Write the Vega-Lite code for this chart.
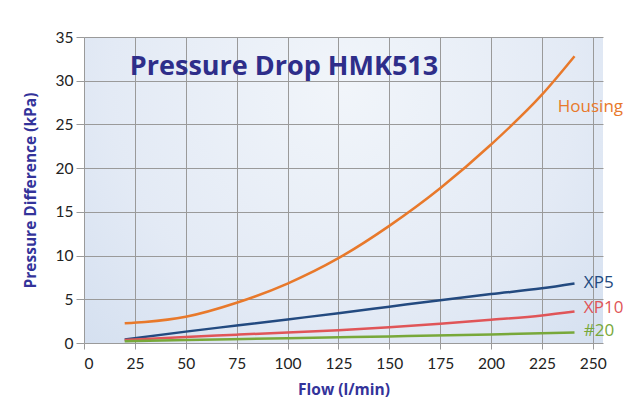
{
  "$schema": "https://vega.github.io/schema/vega-lite/v6.json",
  "autosize": "none",
  "width": 519,
  "height": 306,
  "padding": {"left": 84, "top": 37, "right": 27, "bottom": 58},
  "background": "white",
  "config": {
    "font": "Lato",
    "view": {
      "fill": {
        "gradient": "radial",
        "x1": 0.5, "y1": 0.3, "r1": 0,
        "x2": 0.5, "y2": 0.3, "r2": 0.75,
        "stops": [
          {"offset": 0, "color": "#F1F5FA"},
          {"offset": 0.6, "color": "#E3EAF5"},
          {"offset": 1, "color": "#D2DEEF"}
        ]
      },
      "stroke": null
    },
    "axis": {
      "gridColor": "#9a9a9a",
      "gridOpacity": 1,
      "gridWidth": 1,
      "tickColor": "#9a9a9a",
      "domainColor": "#9a9a9a",
      "labelFont": "Lato",
      "labelFontSize": 15.5,
      "labelColor": "#222222",
      "titleFont": "Open Sans",
      "titleFontSize": 15.5,
      "titleFontWeight": "bold",
      "titleColor": "#33339A"
    }
  },
  "datasets": {
    "curves": [
      {"flow": 20, "dp": 2.25, "series": "Housing"},
      {"flow": 30, "dp": 2.4, "series": "Housing"},
      {"flow": 50, "dp": 3.0, "series": "Housing"},
      {"flow": 75, "dp": 4.6, "series": "Housing"},
      {"flow": 100, "dp": 6.8, "series": "Housing"},
      {"flow": 125, "dp": 9.7, "series": "Housing"},
      {"flow": 150, "dp": 13.4, "series": "Housing"},
      {"flow": 175, "dp": 17.7, "series": "Housing"},
      {"flow": 200, "dp": 22.7, "series": "Housing"},
      {"flow": 225, "dp": 28.4, "series": "Housing"},
      {"flow": 241, "dp": 32.8, "series": "Housing"},
      {"flow": 20, "dp": 0.4, "series": "XP5"},
      {"flow": 50, "dp": 1.3, "series": "XP5"},
      {"flow": 75, "dp": 2.0, "series": "XP5"},
      {"flow": 100, "dp": 2.7, "series": "XP5"},
      {"flow": 125, "dp": 3.4, "series": "XP5"},
      {"flow": 150, "dp": 4.15, "series": "XP5"},
      {"flow": 175, "dp": 4.9, "series": "XP5"},
      {"flow": 200, "dp": 5.6, "series": "XP5"},
      {"flow": 225, "dp": 6.25, "series": "XP5"},
      {"flow": 241, "dp": 6.8, "series": "XP5"},
      {"flow": 20, "dp": 0.35, "series": "XP10"},
      {"flow": 50, "dp": 0.7, "series": "XP10"},
      {"flow": 75, "dp": 0.95, "series": "XP10"},
      {"flow": 100, "dp": 1.2, "series": "XP10"},
      {"flow": 125, "dp": 1.45, "series": "XP10"},
      {"flow": 150, "dp": 1.8, "series": "XP10"},
      {"flow": 175, "dp": 2.2, "series": "XP10"},
      {"flow": 200, "dp": 2.65, "series": "XP10"},
      {"flow": 225, "dp": 3.15, "series": "XP10"},
      {"flow": 241, "dp": 3.6, "series": "XP10"},
      {"flow": 20, "dp": 0.2, "series": "#20"},
      {"flow": 50, "dp": 0.33, "series": "#20"},
      {"flow": 100, "dp": 0.55, "series": "#20"},
      {"flow": 150, "dp": 0.75, "series": "#20"},
      {"flow": 200, "dp": 0.98, "series": "#20"},
      {"flow": 241, "dp": 1.2, "series": "#20"}
    ],
    "labels": [
      {"flow": 232.8, "dp": 27.0, "series": "Housing"},
      {"flow": 245.6, "dp": 6.9, "series": "XP5"},
      {"flow": 245.6, "dp": 4.0, "series": "XP10"},
      {"flow": 245.6, "dp": 1.35, "series": "#20"}
    ],
    "title": [
      {"flow": 22.5, "dp": 31.6, "text": "Pressure Drop HMK513"}
    ]
  },
  "layer": [
    {
      "data": {"name": "curves"},
      "mark": {"type": "line", "strokeWidth": 2.5, "interpolate": "monotone"},
      "encoding": {
        "x": {
          "field": "flow", "type": "quantitative",
          "scale": {"domain": [0, 255], "nice": false},
          "axis": {"values": [0,25,50,75,100,125,150,175,200,225,250], "title": "Flow (l/min)", "tickSize": 6, "labelPadding": 7, "titlePadding": 11, "domain": false}
        },
        "y": {
          "field": "dp", "type": "quantitative",
          "scale": {"domain": [0, 35], "nice": false},
          "axis": {"values": [0,5,10,15,20,25,30,35], "title": "Pressure Difference (kPa)", "tickSize": 8, "labelPadding": 3, "titlePadding": 17, "domain": false}
        },
        "color": {
          "field": "series", "type": "nominal",
          "scale": {"domain": ["Housing", "XP5", "XP10", "#20"], "range": ["#E8792B", "#234A80", "#E05558", "#78A83A"]},
          "legend": null
        }
      }
    },
    {
      "data": {"name": "labels"},
      "mark": {"type": "text", "align": "left", "baseline": "middle", "fontSize": 17, "font": "Open Sans"},
      "encoding": {
        "x": {"field": "flow", "type": "quantitative"},
        "y": {"field": "dp", "type": "quantitative"},
        "text": {"field": "series"},
        "color": {
          "field": "series", "type": "nominal",
          "scale": {"domain": ["Housing", "XP5", "XP10", "#20"], "range": ["#EC8A48", "#2B5594", "#E0676A", "#86AE4A"]},
          "legend": null
        }
      }
    },
    {
      "data": {"name": "title"},
      "mark": {"type": "text", "align": "left", "baseline": "middle", "fontSize": 27, "fontWeight": "bold", "font": "Open Sans", "color": "#2E2E8A"},
      "encoding": {
        "x": {"field": "flow", "type": "quantitative"},
        "y": {"field": "dp", "type": "quantitative"},
        "text": {"field": "text"}
      }
    }
  ]
}
